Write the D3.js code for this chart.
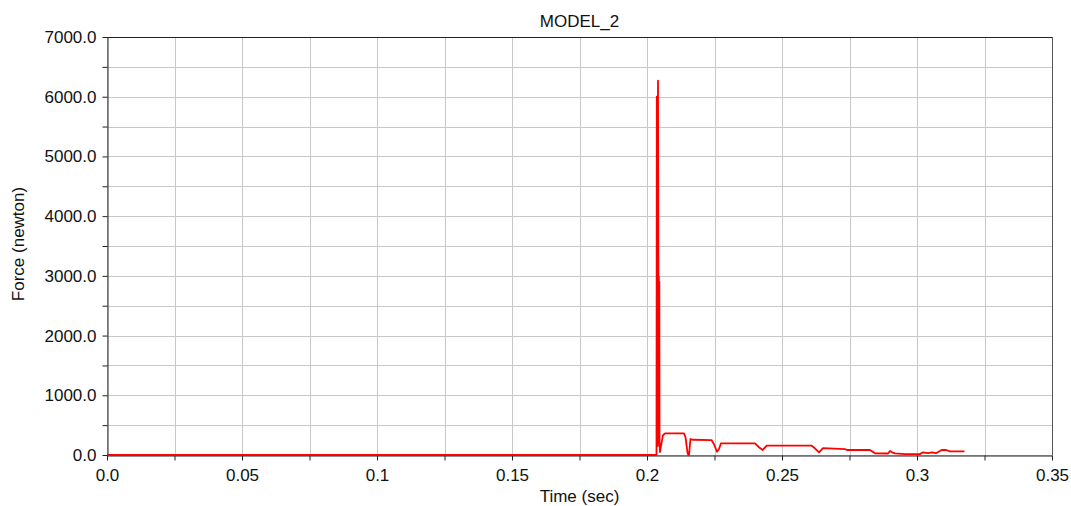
<!DOCTYPE html>
<html>
<head>
<meta charset="utf-8">
<title>MODEL_2</title>
<script src="https://cdnjs.cloudflare.com/ajax/libs/d3/7.8.5/d3.min.js"></script>
<style>
	body { margin: 0; background: #fff; }
	svg text { font-family: "Liberation Sans", Arial, sans-serif; fill: #111; }
	.grid line { stroke: #c8c8c8; stroke-width: 1; }
	.axis path, .axis line { stroke: #222; }
</style>
</head>
<body>
<div id="chart"></div>
<script>
/* chart data */
var chart_title = "MODEL_2";
var x_label = "Time (sec)";
var y_label = "Force (newton)";
var x_ticks = [0, 0.05, 0.1, 0.15, 0.2, 0.25, 0.3, 0.35];
var y_ticks = [0, 1000, 2000, 3000, 4000, 5000, 6000, 7000];
var time_sec = [0, 0.20352, 0.20363, 0.20378, 0.20407, 0.20422, 0.20432, 0.20440, 0.20448, 0.20456,
	0.20464, 0.2048, 0.20537, 0.2059, 0.20667, 0.2137, 0.21426, 0.215, 0.2153, 0.21556,
	0.2161, 0.21704, 0.22389, 0.22481, 0.22593, 0.22667, 0.2274, 0.24, 0.24148, 0.24285,
	0.24433, 0.261, 0.26222, 0.2637, 0.26519, 0.27333, 0.274, 0.28259, 0.28444, 0.28926,
	0.29, 0.29074, 0.29185, 0.29556, 0.30111, 0.30222, 0.30407, 0.30556, 0.30704, 0.30915,
	0.31074, 0.31222, 0.31759];
var force_n = [0, 0, 6000, 150, 6270, 2990, 200, 2990, 150, 2900,
	200, 50, 200, 330, 363, 363, 300, 40, 0, 0,
	268, 255, 250, 180, 55, 100, 196, 196, 130, 84,
	156, 156, 110, 45, 115, 100, 84, 84, 28, 25,
	67, 45, 28, 15, 15, 45, 30, 45, 30, 84,
	84, 60, 60];

var w = 1071, h = 506;
var m = {left: 107, right: 19, top: 37, bottom: 51};

var svg = d3.select("#chart").append("svg").attr("width", w).attr("height", h);

var x_scale = d3.scaleLinear().domain([0, 0.35]).range([m.left, w - m.right]);
var y_scale = d3.scaleLinear().domain([0, 7000]).range([h - m.bottom, m.top]);

/* grid lines at every half step */
var x_grid = d3.range(0, 0.3501, 0.025);
var y_grid = d3.range(0, 7001, 500);
var grid = svg.append("g").attr("class", "grid");
grid.selectAll(".gx").data(x_grid).enter().append("line")
	.attr("x1", function(d){ return Math.round(x_scale(d)) + 0.5; })
	.attr("x2", function(d){ return Math.round(x_scale(d)) + 0.5; })
	.attr("y1", m.top).attr("y2", h - m.bottom);
grid.selectAll(".gy").data(y_grid).enter().append("line")
	.attr("y1", function(d){ return Math.round(y_scale(d)) + 0.5; })
	.attr("y2", function(d){ return Math.round(y_scale(d)) + 0.5; })
	.attr("x1", m.left).attr("x2", w - m.right);

/* axes: major ticks labelled, minor ticks without text */
var x_axis = d3.axisBottom(x_scale).tickValues(x_grid).tickSize(5).tickSizeOuter(0)
	.tickFormat(function(d){
		var hit = x_ticks.find(function(t){ return Math.abs(t - d) < 1e-9; });
		return hit === undefined ? "" : (hit === 0 ? "0.0" : d3.format("")(+hit.toFixed(2)));
	});
var gx = svg.append("g").attr("class", "axis")
	.attr("transform", "translate(0," + (Math.round(y_scale(0)) + 0.5) + ")").call(x_axis);
gx.selectAll("text").style("font-size", "17px").attr("dy", "1.0em");

var y_axis = d3.axisLeft(y_scale).tickValues(y_grid).tickSize(5).tickSizeOuter(0)
	.tickFormat(function(d){ return y_ticks.indexOf(d) >= 0 ? d3.format(".1f")(d) : ""; });
var gy = svg.append("g").attr("class", "axis")
	.attr("transform", "translate(" + (m.left + 0.5) + ",0)").call(y_axis);
gy.selectAll("text").style("font-size", "17px").attr("x", -11);

/* frame: top and right */
svg.append("line").attr("x1", m.left).attr("x2", w - m.right)
	.attr("y1", m.top + 0.5).attr("y2", m.top + 0.5).attr("stroke", "#222");
svg.append("line").attr("x1", w - m.right + 0.5).attr("x2", w - m.right + 0.5)
	.attr("y1", m.top).attr("y2", h - m.bottom).attr("stroke", "#555");

/* force curve */
var pts = time_sec.map(function(t, i){ return [t, force_n[i]]; });
var line = d3.line().x(function(d){ return x_scale(d[0]); }).y(function(d){ return y_scale(d[1]); });
svg.append("path").attr("d", line(pts)).attr("fill", "none")
	.attr("stroke", "#ff0000").attr("stroke-width", 1.8).attr("stroke-linejoin", "round");

/* titles */
svg.append("text").attr("x", (m.left + w - m.right) / 2).attr("y", 27)
	.attr("text-anchor", "middle").style("font-size", "17px").text(chart_title);
svg.append("text").attr("x", (m.left + w - m.right) / 2).attr("y", 502)
	.attr("text-anchor", "middle").style("font-size", "17px").text(x_label);
svg.append("text").attr("transform", "translate(24," + ((m.top + h - m.bottom) / 2 - 2) + ") rotate(-90)")
	.attr("text-anchor", "middle").style("font-size", "17px").text(y_label);
</script>
</body>
</html>
